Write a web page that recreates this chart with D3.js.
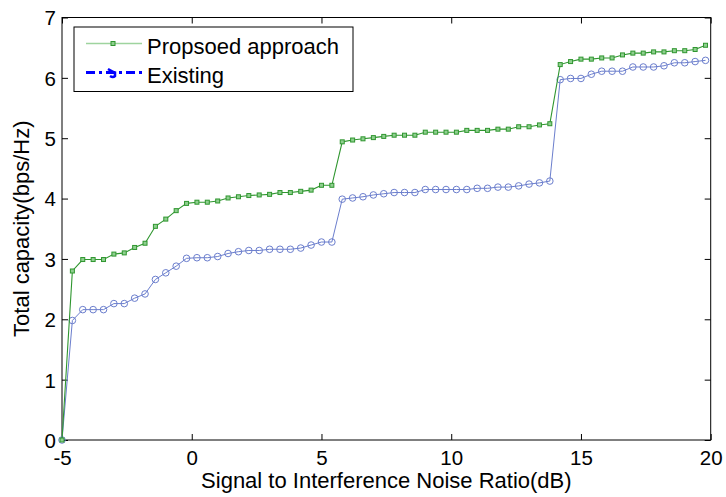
<!DOCTYPE html>
<html><head><meta charset="utf-8">
<script src="https://cdn.jsdelivr.net/npm/d3@7"></script>
<style>
html,body{margin:0;padding:0;background:#fff;}
text{font-family:"Liberation Sans",Arial,sans-serif;fill:#000;}
</style></head>
<body><svg id="c" width="726" height="497"></svg>
<script>
const snr = [-5,-4.6,-4.2,-3.8,-3.4,-3,-2.6,-2.2,-1.8,-1.4,-1,-0.6,-0.2,0.2,0.6,1,1.4,1.8,2.2,2.6,3,3.4,3.8,4.2,4.6,5,5.4,5.8,6.2,6.6,7,7.4,7.8,8.2,8.6,9,9.4,9.8,10.2,10.6,11,11.4,11.8,12.2,12.6,13,13.4,13.8,14.2,14.6,15,15.4,15.8,16.2,16.6,17,17.4,17.8,18.2,18.6,19,19.4,19.8];
const proposed = [0,2.80,2.99,2.99,2.99,3.08,3.10,3.19,3.26,3.54,3.66,3.80,3.92,3.94,3.94,3.96,4.01,4.03,4.05,4.06,4.07,4.10,4.10,4.12,4.14,4.22,4.22,4.94,4.97,4.99,5.01,5.03,5.05,5.05,5.05,5.10,5.10,5.10,5.10,5.13,5.13,5.13,5.15,5.15,5.19,5.19,5.22,5.24,6.22,6.27,6.31,6.31,6.33,6.33,6.38,6.41,6.41,6.43,6.43,6.45,6.45,6.47,6.54];
const existing = [0,1.98,2.16,2.16,2.16,2.26,2.26,2.35,2.42,2.66,2.77,2.88,3.01,3.02,3.02,3.04,3.09,3.12,3.14,3.14,3.16,3.16,3.16,3.18,3.23,3.28,3.28,3.99,4.01,4.03,4.06,4.08,4.10,4.10,4.10,4.15,4.15,4.15,4.15,4.15,4.17,4.17,4.19,4.19,4.21,4.24,4.26,4.29,5.97,5.99,5.99,6.06,6.11,6.11,6.11,6.18,6.18,6.18,6.20,6.25,6.25,6.27,6.29];
const xTicks = [-5,0,5,10,15,20];
const yTicks = [0,1,2,3,4,5,6,7];
const seriesNames = ["Propsoed approach","Existing"];
const xLabel = "Signal to Interference Noise Ratio(dB)";
const yLabel = "Total capacity(bps/Hz)";

const svg = d3.select("#c");
const L=62,R=710.7,T=17.5,B=440;
const x = d3.scaleLinear().domain([-5,20]).range([L,R]);
const y = d3.scaleLinear().domain([0,7]).range([B,T]);
const tl = 6;
const fmt = d => String(d);

svg.append("rect").attr("x",L).attr("y",T).attr("width",R-L).attr("height",B-T)
  .attr("fill","none").attr("stroke","#000").attr("stroke-width",1);

const axB = svg.append("g").attr("transform",`translate(0,${B})`)
  .call(d3.axisBottom(x).tickValues(xTicks).tickSize(-tl).tickFormat(fmt));
const axT = svg.append("g").attr("transform",`translate(0,${T})`)
  .call(d3.axisTop(x).tickValues(xTicks).tickSize(-tl).tickFormat(""));
const axL = svg.append("g").attr("transform",`translate(${L},0)`)
  .call(d3.axisLeft(y).tickValues(yTicks).tickSize(-tl).tickFormat(fmt));
const axR = svg.append("g").attr("transform",`translate(${R},0)`)
  .call(d3.axisRight(y).tickValues(yTicks).tickSize(-tl).tickFormat(""));
[axB,axT,axL,axR].forEach(a=>{
  a.select(".domain").remove();
  a.selectAll("line").attr("stroke","#000");
  a.selectAll("text").attr("font-size",20.5).attr("font-family","Liberation Sans, Arial, sans-serif").attr("fill","#000");
});
axB.selectAll("text").attr("dy",null).attr("y",24.5);
axL.selectAll("text").attr("x",-6).attr("dy","0.36em");

const gColor="#2f962f", bColor="#6b7ecd";
const line = d3.line().x((d,i)=>x(snr[i])).y(d=>y(d));
svg.append("path").datum(existing).attr("d",line).attr("fill","none").attr("stroke",bColor).attr("stroke-width",1);
svg.append("g").selectAll("circle").data(existing).join("circle")
  .attr("cx",(d,i)=>x(snr[i])).attr("cy",d=>y(d)).attr("r",3.3)
  .attr("fill","none").attr("stroke",bColor).attr("stroke-width",1);
svg.append("path").datum(proposed).attr("d",line).attr("fill","none").attr("stroke",gColor).attr("stroke-width",1.1);
svg.append("g").selectAll("rect").data(proposed).join("rect")
  .attr("x",(d,i)=>x(snr[i])-2).attr("y",d=>y(d)-2).attr("width",4).attr("height",4)
  .attr("fill","#8fcf8f").attr("stroke",gColor).attr("stroke-width",1);

svg.append("text").attr("x",(L+R)/2).attr("y",488).attr("text-anchor","middle").attr("font-size",22).text(xLabel);
svg.append("text").attr("transform",`translate(29,${(T+B)/2}) rotate(-90)`).attr("text-anchor","middle").attr("font-size",22).text(yLabel);

const lg = svg.append("g");
lg.append("rect").attr("x",74).attr("y",27).attr("width",279).attr("height",64.5)
  .attr("fill","#fff").attr("stroke","#000").attr("stroke-width",1);
lg.append("line").attr("x1",86).attr("x2",142).attr("y1",43.5).attr("y2",43.5).attr("stroke","#9ed49e").attr("stroke-width",1.5);
lg.append("rect").attr("x",111).attr("y",41.5).attr("width",4).attr("height",4).attr("fill","#8fcf8f").attr("stroke",gColor);
lg.append("line").attr("x1",86).attr("x2",142).attr("y1",72.5).attr("y2",72.5).attr("stroke","#0000ff").attr("stroke-width",3)
  .attr("stroke-dasharray","9,4,3,4");
lg.append("path").attr("d","M108,69 Q113,72 115,72.5 L115,76 Q113,78 110,76").attr("fill","none").attr("stroke","#0000ff").attr("stroke-width",2.5);
lg.append("text").attr("x",147).attr("y",54).attr("font-size",22).text(seriesNames[0]);
lg.append("text").attr("x",147).attr("y",82.5).attr("font-size",22).text(seriesNames[1]);
</script></body></html>
